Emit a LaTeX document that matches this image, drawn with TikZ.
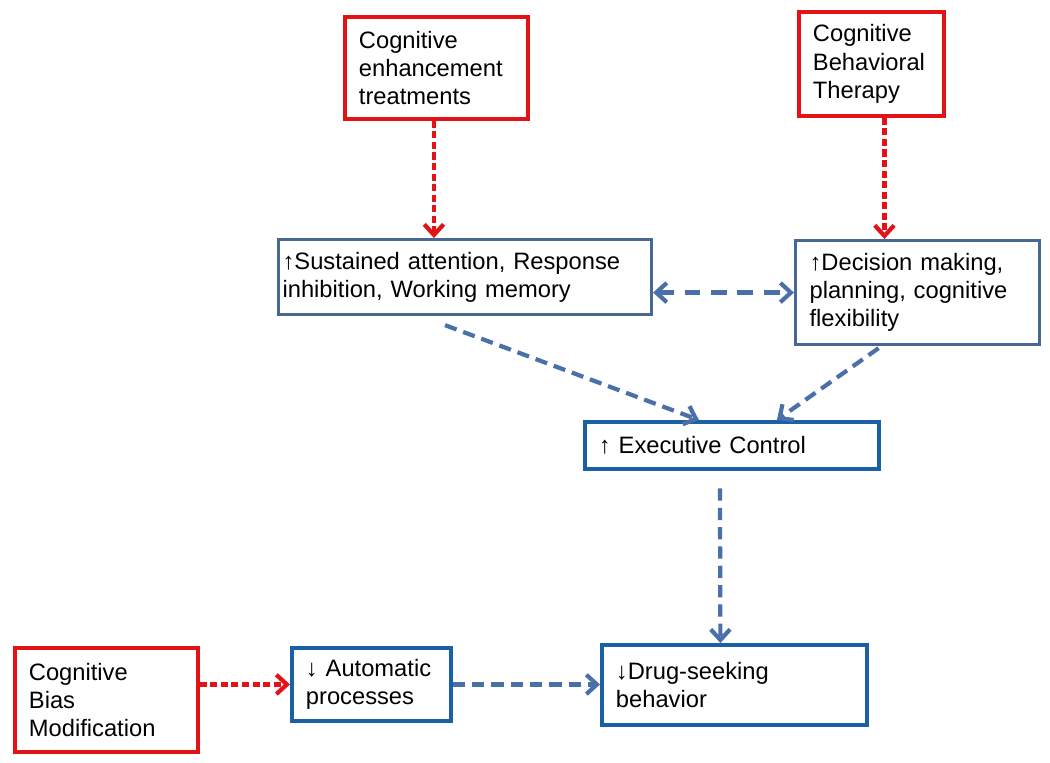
\documentclass[tikz,border=0pt]{standalone}
\usepackage{fontspec}
\setmainfont{Liberation Sans}
\usepackage{tikz}
\usetikzlibrary{calc,arrows.meta,positioning}
\definecolor{Red}{RGB}{226,18,22}
\definecolor{SteelBlue}{RGB}{70,104,146}
\definecolor{DeepBlue}{RGB}{26,96,164}
\definecolor{FlowBlue}{RGB}{74,112,170}

\begin{document}
\begin{tikzpicture} [x=0.02cm, y=-0.02cm,
       >={Straight Barb[length=6pt,width=11pt]}, text=black,
	   every node/.style={font=\fontsize{13.5}{16}\selectfont},
	   treat/.style 2 args = {draw=Red, line width=2.2pt, align=left, inner xsep=0.28cm,
	                          text width=#1, minimum height=#2, anchor=north west},
	   effect/.style 2 args = {draw=SteelBlue, line width=1.8pt, align=left, inner xsep=0.28cm,
	                          text width=#1, minimum height=#2, anchor=north west},
	   ctrl/.style 2 args = {effect={#1}{#2}, draw=DeepBlue, line width=2.2pt},
	   redflow/.style = {->, Red, line width=2.4pt, dash pattern=on 4pt off 2pt},
	   blueflow/.style = {->, FlowBlue, line width=2.4pt, dash pattern=on 7pt off 4pt}]

	\useasboundingbox (0,0) rectangle (1050,762);

	%% Treatments (red boxes)
	\node [treat={3.10cm}{2.04cm}] (cet) at (343,15) {Cognitive\\enhancement\\treatments};
	\node [treat={2.34cm}{2.08cm}] (cbt) at (797,10) {Cognitive\\Behavioral\\Therapy};
	\node [treat={3.10cm}{2.08cm}] (cbm) at (13,646) {Cognitive\\Bias\\Modification};

	%% Cognitive processes (blue boxes)
	\node [effect={7.30cm}{1.50cm}, inner xsep=0.08cm] (attn) at (277,238)
	      {↑Sustained attention, Response\\inhibition, Working memory};
	\node [effect={4.32cm}{2.08cm}] (decis) at (794,239)
	      {↑Decision making,\\planning, cognitive\\flexibility};
	\node [ctrl={5.32cm}{0.94cm}] (exec) at (583,420) {↑ Executive Control};
	\node [ctrl={2.62cm}{1.46cm}] (autom) at (290,646) {↓ Automatic\\processes};
	\node [ctrl={4.74cm}{1.60cm}] (drug) at (600,643) {↓Drug-seeking\\behavior};

	%% Treatment effects
	\coordinate (cetout) at ([xshift=-0.05cm]cet.south);
	\draw [redflow] (cetout) -- (cetout |- attn.north);
	\coordinate (cbtout) at ([xshift=0.26cm]cbt.south);
	\draw [redflow] (cbtout) -- (cbtout |- decis.north);
	\draw [redflow] (cbm.east |- autom.west) -- (autom.west);

	%% Paths to executive control and drug seeking
	\draw [blueflow, <->, dash pattern=on 9pt off 6pt] (attn.east |- decis.west) -- (decis.west);
	\draw [blueflow] ($(attn.south)+(-20,9)$) -- ($(exec.north)+(-33,0)$);
	\draw [blueflow] ($(decis.south)+(-39,2)$) -- ($(exec.north)+(45,0)$);
	\draw [blueflow, shorten <=10pt] ($(exec.south)+(-12,0)$) -- ($(drug.north)+(-14,0)$);
	\draw [blueflow] (autom.east) -- (autom.east -| drug.west);
\end{tikzpicture}
\end{document}
